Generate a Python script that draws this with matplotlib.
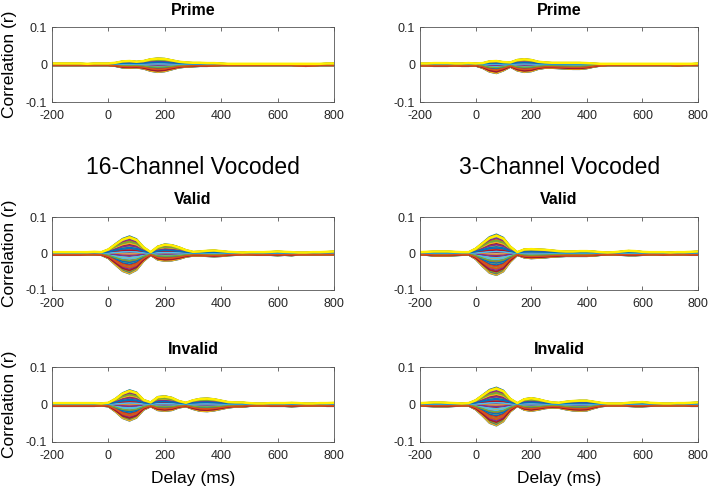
import numpy as np
import matplotlib
matplotlib.use("Agg")
import matplotlib.pyplot as plt

plt.rcParams['font.family'] = ['Liberation Sans', 'DejaVu Sans']
plt.rcParams['axes.unicode_minus'] = False

# delays (ms), sampled every 25 ms
delays = list(range(-200, 801, 25))

# upper / lower envelopes of the channel fan for each panel
prime16_hi = [.003, .003, .003, .003, .003, .002, .003, .003, .003, .005, .009, .010, .008, .010, .015, .017, .016,
              .012, .008, .006, .005, .005, .004, .004, .003, .002, .002, .002, .002, .002, .002, .002, .002, .002,
              .002, .002, .002, .002, .002, .003, .003]
prime16_lo = [-.003, -.003, -.003, -.003, -.003, -.003, -.003, -.003, -.003, -.005, -.009, -.010, -.009, -.012,
              -.018, -.021, -.019, -.014, -.009, -.007, -.006, -.005, -.005, -.004, -.003, -.003, -.003, -.003,
              -.003, -.003, -.003, -.003, -.003, -.003, -.003, -.004, -.005, -.004, -.003, -.003, -.003]
prime3_hi = [.003, .003, .004, .004, .004, .003, .003, .004, .003, .004, .009, .010, .007, .006, .013, .015, .013,
             .008, .006, .005, .005, .005, .005, .005, .004, .003, .002, .002, .002, .002, .002, .002, .002, .002,
             .002, .002, .002, .002, .002, .002, .003]
prime3_lo = [-.004, -.004, -.005, -.005, -.005, -.004, -.005, -.005, -.004, -.010, -.020, -.024, -.017, -.007,
             -.017, -.021, -.019, -.013, -.010, -.010, -.011, -.012, -.013, -.013, -.011, -.007, -.004, -.003,
             -.003, -.003, -.003, -.003, -.003, -.003, -.003, -.003, -.003, -.004, -.003, -.003, -.003]
valid16_hi = [.004, .004, .004, .004, .004, .004, .005, .004, .012, .027, .041, .048, .040, .018, .004, .020, .026,
              .024, .018, .010, .005, .006, .008, .009, .007, .005, .004, .003, .004, .004, .004, .005, .006, .005,
              .004, .003, .003, .004, .004, .005, .006]
valid16_lo = [-.005, -.005, -.005, -.005, -.005, -.004, -.004, -.005, -.014, -.032, -.049, -.056, -.046, -.022,
              -.005, -.018, -.021, -.020, -.016, -.010, -.007, -.007, -.008, -.009, -.008, -.006, -.005, -.004,
              -.004, -.005, -.005, -.005, -.006, -.005, -.006, -.004, -.004, -.004, -.004, -.004, -.004]
valid3_hi = [.004, .005, .006, .006, .006, .005, .004, .004, .014, .030, .046, .053, .044, .020, .004, .012, .013,
             .012, .011, .009, .007, .006, .006, .007, .007, .006, .004, .003, .004, .006, .008, .007, .005, .004,
             .004, .004, .003, .004, .004, .005, .006]
valid3_lo = [-.004, -.005, -.007, -.007, -.007, -.006, -.005, -.004, -.016, -.036, -.054, -.060, -.050, -.024,
             -.005, -.012, -.014, -.013, -.012, -.010, -.009, -.008, -.008, -.008, -.008, -.007, -.005, -.004,
             -.004, -.005, -.006, -.006, -.005, -.004, -.004, -.005, -.004, -.004, -.004, -.005, -.005]
invalid16_hi = [.004, .004, .004, .004, .004, .004, .004, .003, .005, .016, .031, .039, .033, .013, .006, .021,
                .023, .019, .010, .005, .012, .016, .017, .015, .011, .007, .006, .006, .004, .003, .003, .004,
                .004, .004, .005, .004, .003, .003, .004, .004, .005]
invalid16_lo = [-.005, -.005, -.005, -.005, -.005, -.005, -.005, -.004, -.006, -.020, -.037, -.044, -.036, -.015,
                -.006, -.016, -.018, -.016, -.009, -.006, -.013, -.018, -.019, -.017, -.013, -.009, -.007, -.007,
                -.005, -.004, -.004, -.005, -.005, -.005, -.006, -.005, -.004, -.004, -.004, -.005, -.005]
invalid3_hi = [.004, .005, .006, .006, .005, .004, .003, .004, .012, .026, .040, .046, .038, .016, .004, .015, .018,
               .015, .010, .006, .005, .008, .010, .011, .011, .008, .005, .003, .003, .003, .005, .006, .007, .005,
               .004, .003, .003, .004, .004, .005, .006]
invalid3_lo = [-.004, -.005, -.006, -.006, -.006, -.005, -.004, -.004, -.014, -.031, -.050, -.057, -.046, -.020,
               -.005, -.015, -.018, -.015, -.011, -.009, -.010, -.014, -.017, -.018, -.017, -.011, -.006, -.004,
               -.004, -.004, -.005, -.006, -.006, -.005, -.004, -.004, -.004, -.004, -.004, -.005, -.005]

# channel weights within the envelope (1 = upper edge, -1 = lower edge)
channel_w = [1.0, -0.92, 0.42, -0.31, 0.71, -0.62, 0.08, -1.0, 0.56, -0.47, 0.26, -0.81, 0.84, -0.14, 0.61,
             -0.72, 0.33, -0.37, 0.97, -0.55, 0.04, -0.96, 0.76, -0.24, 0.47, -0.66, 0.16, -0.86, 0.9, -0.41,
             0.37, -0.77, 0.66, -0.19, 0.52, -0.52, 0.21, -0.04, 0.8, -0.88, 0.12, -0.58, 0.29, -0.69, 0.58,
             -0.09, 0.68, -0.28, 0.18, -0.44, 0.95, -0.99, 0.45, -0.35, 0.1, -0.83, 0.35, -0.6, 0.92]

panels = [
    ("Prime", prime16_hi, prime16_lo),
    ("Prime", prime3_hi, prime3_lo),
    ("Valid", valid16_hi, valid16_lo),
    ("Valid", valid3_hi, valid3_lo),
    ("Invalid", invalid16_hi, invalid16_lo),
    ("Invalid", invalid3_hi, invalid3_lo),
]

matlab_colors = ['#0072BD', '#D95319', '#EDB120', '#7E2F8E', '#77AC30', '#4DBEEE', '#A2142F']

fig = plt.figure(figsize=(7.12, 4.88), dpi=100)
W, H = 712, 488
col_x = [(52, 282), (420, 278)]
row_y = [(27, 75), (217, 73), (367, 75)]

x = np.array(delays)
for i, (title, hi, lo) in enumerate(panels):
    r, c = divmod(i, 2)
    x0, w = col_x[c]
    y0, h = row_y[r]
    ax = fig.add_axes([x0 / W, 1 - (y0 + h) / H, w / W, h / H])
    hi = np.array(hi)
    lo = np.array(lo)
    for k, g in enumerate(channel_w):
        y = g * hi if g >= 0 else -g * lo
        last = k == len(channel_w) - 1
        ax.plot(x, y, color='#FFEF00' if last else matlab_colors[k % 7],
                lw=1.8 if last else 1.0, solid_joinstyle='round')
    ax.set_xlim(-200, 800)
    ax.set_ylim(-0.1, 0.1)
    ax.set_xticks([-200, 0, 200, 400, 600, 800])
    ax.set_yticks([-0.1, 0, 0.1])
    ax.set_yticklabels(['-0.1', '0', '0.1'])
    ax.tick_params(direction='in', top=True, right=True, length=3, width=0.6,
                   labelsize=9, colors='#555555', labelcolor='#262626')
    ax.tick_params(axis='x', pad=6)
    for s in ax.spines.values():
        s.set_color('#555555')
        s.set_linewidth(0.6)
    ax.set_title(title, fontsize=11.5, fontweight='bold', pad=9)
    if c == 0:
        ax.set_ylabel('Correlation (r)', fontsize=12.5)
        ax.yaxis.set_label_coords(-0.125, 0.5)
    if r == 2:
        ax.set_xlabel('Delay (ms)', fontsize=12.5, labelpad=6)

fig.text(193 / W, 1 - 168 / H, '16-Channel Vocoded', fontsize=16.5, ha='center', va='center')
fig.text(560 / W, 1 - 168 / H, '3-Channel Vocoded', fontsize=16.5, ha='center', va='center')

fig.savefig('out.png', dpi=100)
